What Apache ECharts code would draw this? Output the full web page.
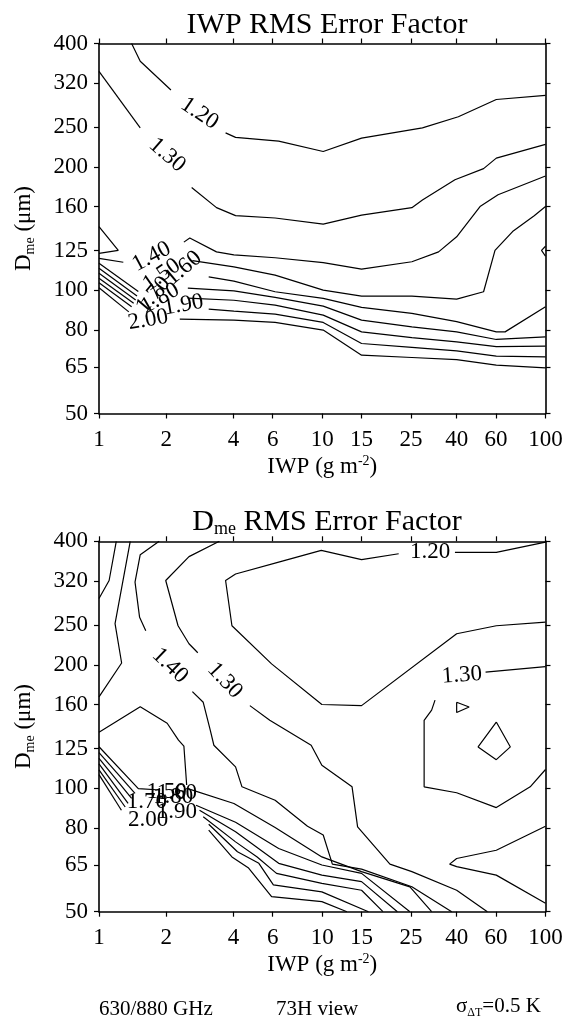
<!DOCTYPE html>
<html><head><meta charset="utf-8">
<script src="https://cdn.jsdelivr.net/npm/echarts@6/dist/echarts.min.js"></script>
<style>html,body{margin:0;padding:0;background:#fff}#c{width:566px;height:1023px}</style>
</head><body><div id="c"></div>
<script>
// ---------- tick values ----------
const xTicks = [1, 2, 4, 6, 10, 15, 25, 40, 60, 100];
const yTicks = [50, 65, 80, 100, 125, 160, 200, 250, 320, 400];

// ---------- top panel: IWP RMS error factor contours [IWP, Dme] ----------
const iwp120 = [
  [[1.40,400],[1.53,362],[2.10,308]],
  [[3.69,242],[4.09,236],[6.38,231],[10.1,218],[15,235],[28.1,249],[40.7,265],[60.2,292],[100,299]]
];
const iwp130 = [
  [[1,342],[1.53,249]],
  [[2.60,178],[3.36,159],[4.09,152],[6.15,150],[10.1,145],[15,152.5],[25.2,159],[28.1,166],[39.3,186],[52.8,198],[60.2,210],[100,227]]
];
const iwp140 = [
  [[1,143],[1.22,125],[1,123]],
  [[1,119.6],[1.285,117]],
  [[2.40,131],[2.55,134],[3.36,124],[4.02,122],[6.15,120],[10.1,116.7],[15,112.6],[25.2,117.3],[33.2,124],[40,135],[50.9,160],[61.3,171],[100,190]]
];
const iwp150 = [
  [[1,116.3],[1.5,99.2]],
  [[2.62,118],[4.02,114],[6.15,108.8],[10.1,100],[15,96.7],[25.2,96.7],[40,95.1],[52.8,99.1],[59.4,125],[71.2,139],[89,152],[100,160]],
  [[100,128],[96,125],[100,121]]
];
const iwp160 = [
  [[1,113.1],[1.48,96.8]],
  [[3.10,107.8],[4.02,105.2],[6.15,99.1],[10.1,95.5],[15,90.8],[25.2,87.8],[40,83.8],[60.2,79.1],[65.9,79.1],[100,91.1]]
];
const iwp170 = [
  [[1,110],[1.46,94.6]],
  [[2.50,101.2],[4.02,99.6],[6.15,96],[10.1,91.4],[15,84.5],[25.2,81.4],[40,79.1],[60.2,75.8],[100,76.9]]
];
const iwp180 = [
  [[1,106.9],[1.43,92.9]],
  [[2.50,95.6],[4.02,94.5],[6.15,91.9],[10.1,86.9],[15,79.1],[25.2,76.6],[40,74.8],[60.2,72.8],[100,73]]
];
const iwp190 = [
  [[1,104.3],[1.40,91.1]],
  [[3.10,89.9],[4.02,88.9],[6.15,87.4],[10.1,83.4],[15,74.1],[25.2,72.5],[40,71.1],[60.2,69],[100,68.7]]
];
const iwp200 = [
  [[1,101.4],[1.36,88.5]],
  [[2.30,85],[4.02,84.5],[6.15,83.4],[10.1,79.9],[15,69.4],[25.2,68.5],[40,67.7],[60.2,65.6],[100,64.6]]
];
const iwpLabels = [
  ['1.20',2.82,270],['1.30',2.02,213.6],['1.40',1.72,120.7],['1.50',1.91,108.9],
  ['1.60',2.39,113.1],['1.70',1.75,97.3],['1.80',1.88,95.5],['1.90',2.39,92],['2.00',1.66,84.6]
];

// ---------- bottom panel: Dme RMS error factor contours [IWP, Dme] ----------
const dme120 = [
  [[100,254],[60.2,249],[40,238],[15,159],[9.96,160],[5.93,201],[3.94,249],[3.69,321],[4.09,333],[6.38,356],[9.9,380],[15,361],[22,373]],
  [[39.3,376],[60.2,376],[100,398]]
];
const dme130 = [
  [[3.46,400],[2.53,367],[1.99,321],[2.26,249],[2.53,225],[2.77,214]],
  [[4.74,159],[5.82,146.4],[8.92,127.3],[9.96,113.8],[13.6,100.8],[14.4,80.5],[20.1,65.3],[25.2,62.6],[40,56.4],[54.9,50]],
  [[32,164],[30.9,155],[28.6,146.4],[28.6,100.8],[40,97.5],[60.2,89.7],[85.4,100.8],[100,111.1]],
  [[53.9,192],[100,198]]
];
const dmeMinor = [
  [[40,162],[45.5,157.8],[40,153],[40,162]],
  [[60.2,145],[69.6,126.1],[60.2,117.4],[49.9,126.1],[60.2,145]],
  [[100,80.8],[60.2,70.6],[40,67.4],[37.2,65.3],[40,64.4],[60.2,61.4],[100,52.4]]
];
const dme140 = [
  [[1.86,400],[1.53,371],[1.45,318],[1.52,261],[1.62,242]],
  [[2.62,172],[2.93,162],[3.15,138.5],[3.27,127.3],[4.09,112.7],[4.37,100.8],[6.15,93.5],[8.59,80.8],[10.1,76.9],[11.1,65.3],[15,63.5],[25.2,57.5],[38,50]]
];
const dme150 = [
  [[1,167],[1.263,202],[1.18,252],[1.38,400]],
  [[1,137],[1.53,158],[2.02,144],[2.27,131],[2.40,126.7],[2.47,101.8]],
  [[1,126.2],[1.5,99.8],[1.88,99]],
  [[2.50,99.8],[4.02,91.8],[6.15,80.2],[9.96,68],[15,62.6],[24.7,57.5],[30.9,50]]
];
const dme160 = [
  [[1,290],[1.11,321],[1.195,400]],
  [[1,122.1],[1.45,97.2]],
  [[2.72,90.9],[4.09,82.6],[6.38,71.3],[9.96,65],[15,62],[24.7,50]]
];
const dme170 = [
  [[1,118.3],[1.40,94.5]],
  [[2.82,88.4],[4.09,78.3],[6.38,65.6],[9.96,61.4],[15,59.2],[21.7,50]]
];
const dme180 = [
  [[1,114.6],[1.35,91.8]],
  [[2.93,85.2],[4.09,74],[5.11,68],[6.24,62],[9.96,58.6],[15,56.4],[18.7,50]]
];
const dme190 = [
  [[1,110.8],[1.31,90]],
  [[3.10,81.7],[4.17,70],[5.2,65.6],[6.04,58.1],[9.96,55.9],[16.1,50]]
];
const dme200 = [
  [[1,107.9],[1.26,88.4]],
  [[3.10,79],[3.94,68],[4.66,64],[5.93,54.4],[9.96,52.9],[12.9,50]]
];
const dmeLabels = [
  ['1.20',30.4,376],['1.30',3.66,183],['1.40',2.08,199],['1.30',42.2,188.6],
  ['1.50',2.01,98],['1.60',2.23,97.2],['1.70',1.64,92.7],['1.80',2.15,95.4],['1.90',2.23,87.7],['2.00',1.66,83.6]
];

// ---------- styling (not data) ----------
const iwpLabelRot = [-34,-41,28,35,40,50,30,10,10];
const dmeLabelRot = [0,-47,-44,4,0,0,0,0,0,0];
const FONT = "'Liberation Serif','Times New Roman',serif";
const lg = Math.log10;

function segSeries(groups, xi, yi){
  const out = [];
  groups.forEach(g => g.forEach(s => out.push({
    type:'line', xAxisIndex:xi, yAxisIndex:yi,
    data: s.map(p => [lg(p[0]), lg(p[1])]),
    showSymbol:false, symbol:'none', silent:true, animation:false, z:3,
    lineStyle:{color:'#000', width:1.2}
  })));
  return out;
}
function labelSeries(arr, rot, xi, yi){
  return {
    type:'scatter', xAxisIndex:xi, yAxisIndex:yi, symbolSize:1, silent:true, animation:false, z:5,
    itemStyle:{color:'rgba(255,255,255,0)'},
    data: arr.map((l,i) => ({
      value:[lg(l[1]), lg(l[2])],
      label:{show:true, position:'inside', formatter:l[0], rotate:rot[i], fontSize:23, fontFamily:FONT,
             color:'#000', opacity:1, textBorderWidth:0, textBorderColor:'transparent'}
    }))
  };
}
const fmt = v => String(Math.round(Math.pow(10, v)));
function xAxis(grid, pos, withLabels){
  const a = {
    type:'value', gridIndex:grid, position:pos, min:0, max:2,
    axisLine:{show:true, onZero:false, lineStyle:{color:'#000', width:1.6}},
    axisTick:{show:true, inside:false, length:5, customValues:xTicks.map(lg), lineStyle:{color:'#000', width:1.2}},
    axisLabel:{show:withLabels, customValues:xTicks.map(lg), formatter:fmt, fontSize:23, fontFamily:FONT, color:'#000', margin:15},
    splitLine:{show:false}
  };
  if (withLabels){
    a.name = '{a|IWP (g m}{s|-2}{a|)}';
    a.nameLocation = 'middle';
    a.nameGap = 41;
    a.nameTextStyle = {rich:{
      a:{fontSize:23, fontFamily:FONT, color:'#000', lineHeight:24},
      s:{fontSize:14, fontFamily:FONT, color:'#000', verticalAlign:'top', lineHeight:14}
    }};
  }
  return a;
}
function yAxis(grid, pos, withLabels){
  const a = {
    type:'value', gridIndex:grid, position:pos, min:lg(50), max:lg(400),
    axisLine:{show:true, onZero:false, lineStyle:{color:'#000', width:1.6}},
    axisTick:{show:true, inside:false, length:5, customValues:yTicks.map(lg), lineStyle:{color:'#000', width:1.2}},
    axisLabel:{show:withLabels, customValues:yTicks.map(lg), formatter:fmt, fontSize:23, fontFamily:FONT, color:'#000', margin:11},
    splitLine:{show:false}
  };
  if (withLabels){
    a.name = '{a|D}{s|me}{a| (μm)}';
    a.nameLocation = 'middle';
    a.nameGap = 62;
    a.nameTextStyle = {rich:{
      a:{fontSize:23, fontFamily:FONT, color:'#000', lineHeight:26},
      s:{fontSize:14, fontFamily:FONT, color:'#000', verticalAlign:'bottom', lineHeight:14}
    }};
  }
  return a;
}

const chart = echarts.init(document.getElementById('c'), null, {renderer:'canvas'});
const series = [].concat(
  segSeries([iwp120,iwp130,iwp140,iwp150,iwp160,iwp170,iwp180,iwp190,iwp200], 0, 0),
  [labelSeries(iwpLabels, iwpLabelRot, 0, 0)],
  segSeries([dme120,dme130,dmeMinor,dme140,dme150,dme160,dme170,dme180,dme190,dme200], 2, 2),
  [labelSeries(dmeLabels, dmeLabelRot, 2, 2)]
);

chart.setOption({
  animation:false,
  backgroundColor:'#fff',
  title:[
    {text:'IWP RMS Error Factor', left:322, top:5, textAlign:'center',
     textStyle:{fontSize:30, fontWeight:'normal', fontFamily:FONT, color:'#000'}},
    {text:'{a|D}{s|me}{a| RMS Error Factor}', left:322, top:501, textAlign:'center',
     textStyle:{fontWeight:'normal', rich:{
       a:{fontSize:30, fontWeight:'normal', fontFamily:FONT, color:'#000', lineHeight:32},
       s:{fontSize:18, fontWeight:'normal', fontFamily:FONT, color:'#000', verticalAlign:'bottom', lineHeight:18}
     }}}
  ],
  grid:[
    {left:99, top:43.5, width:446.5, height:370, containLabel:false, outerBoundsMode:'none'},
    {left:99, top:541.3, width:446.5, height:370.4, containLabel:false, outerBoundsMode:'none'}
  ],
  xAxis:[xAxis(0,'bottom',true), xAxis(0,'top',false), xAxis(1,'bottom',true), xAxis(1,'top',false)],
  yAxis:[yAxis(0,'left',true), yAxis(0,'right',false), yAxis(1,'left',true), yAxis(1,'right',false)],
  graphic:[
    {type:'text', left:99, top:999, style:{text:'630/880 GHz', font:"21px 'Liberation Serif', serif", fill:'#000'}},
    {type:'text', left:276, top:999, style:{text:'73H view', font:"21px 'Liberation Serif', serif", fill:'#000'}},
    {type:'text', left:456, top:996, style:{
      text:'{a|σ}{s|ΔT}{a|=0.5 K}',
      rich:{
        a:{fontSize:21, fontFamily:FONT, fill:'#000', lineHeight:24},
        s:{fontSize:12, fontFamily:FONT, fill:'#000', verticalAlign:'bottom', lineHeight:12}
      }}}
  ],
  series: series
});
</script></body></html>
